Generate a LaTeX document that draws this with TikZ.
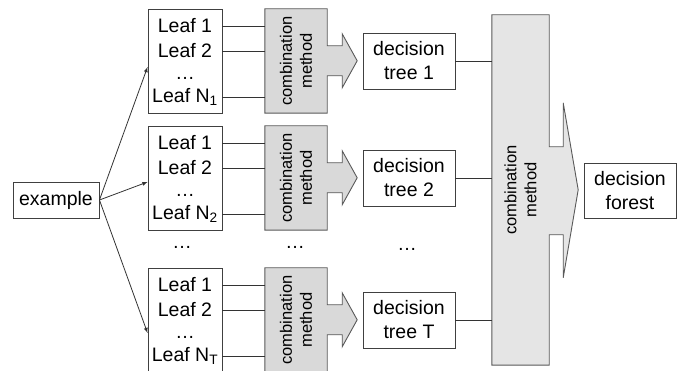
\documentclass[tikz,border=0pt]{standalone}
\usepackage{fontspec}
\setmainfont{Liberation Sans}
\begin{document}
\begin{tikzpicture}
    [
    x=1pt, y=-1pt,
    every node/.style={font=\fontsize{19.5}{24}\selectfont},
    box/.style={rectangle,draw=black!75,line width=0.9pt,inner sep=0pt,align=center},
    leafbox/.style={box,minimum width=74pt,minimum height=104pt},
    treebox/.style={box,minimum width=92pt,minimum height=56pt},
    leaf/.style={inner sep=0pt},
    combbox/.style={rectangle,inner sep=0pt,minimum width=62pt,minimum height=104pt},
    combtext/.style={rotate=90,align=center,inner sep=0pt,font=\fontsize{16.5}{20}\selectfont},
    combarrow/.style={fill=black!15,draw=black!65,line width=0.9pt,line join=miter},
    bigarrow/.style={fill=black!10,draw=black!65,line width=0.9pt,line join=miter},
    link/.style={draw=black!80,line width=0.8pt}
    ]
    \clip (0,0) rectangle (686,371);
    \node (example) at (56,200) [box,minimum width=86pt,minimum height=36pt] {example};
    % first tree
    \node (box1) at (185,61) [leafbox] {};
    \node (l1a) at (185,26) [leaf] {Leaf 1};
    \node (l1b) at (185,51) [leaf] {Leaf 2};
    \node (l1d) at (185,78) [leaf] {\dots};
    \node (l1n) at (185,97) [leaf] {Leaf N\textsubscript{1}};
    \node (comb1) at (296,61) [combbox] {};
    \path [combarrow] (comb1.north west) -- (comb1.north east) -- ++(0,37) -- ++(15,0) -- ++(0,-12)
        -- ++(15,27) -- ++(-15,27) -- ++(0,-12) -- ++(-15,0) -- (comb1.south east) -- (comb1.south west) -- cycle;
    \node at (comb1) [combtext] {combination\\method};
    \node (tree1) at (409,61) [treebox] {decision\\tree 1};
    % second tree
    \node (box2) at (185,178) [leafbox] {};
    \node (l2a) at (185,143) [leaf] {Leaf 1};
    \node (l2b) at (185,168) [leaf] {Leaf 2};
    \node (l2d) at (185,195) [leaf] {\dots};
    \node (l2n) at (185,214) [leaf] {Leaf N\textsubscript{2}};
    \node (comb2) at (296,178) [combbox] {};
    \path [combarrow] (comb2.north west) -- (comb2.north east) -- ++(0,37) -- ++(15,0) -- ++(0,-12)
        -- ++(15,27) -- ++(-15,27) -- ++(0,-12) -- ++(-15,0) -- (comb2.south east) -- (comb2.south west) -- cycle;
    \node at (comb2) [combtext] {combination\\method};
    \node (tree2) at (409,178) [treebox] {decision\\tree 2};
    % skipped trees
    \node (dotsl) at (182,247) [leaf] {\dots};
    \node (dotsc) at (295,247) [leaf] {\dots};
    \node (dotst) at (407,249) [leaf] {\dots};
    % last tree
    \node (box3) at (185,320) [leafbox] {};
    \node (l3a) at (185,285) [leaf] {Leaf 1};
    \node (l3b) at (185,310) [leaf] {Leaf 2};
    \node (l3d) at (185,337) [leaf] {\dots};
    \node (l3n) at (185,356) [leaf] {Leaf N\textsubscript{T}};
    \node (comb3) at (296,320) [combbox] {};
    \path [combarrow] (comb3.north west) -- (comb3.north east) -- ++(0,37) -- ++(15,0) -- ++(0,-12)
        -- ++(15,27) -- ++(-15,27) -- ++(0,-12) -- ++(-15,0) -- (comb3.south east) -- (comb3.south west) -- cycle;
    \node at (comb3) [combtext] {combination\\method};
    \node (tree3) at (409,320) [treebox] {decision\\tree T};
    % forest
    \node (bigcomb) at (520.5,190) [rectangle,inner sep=0pt,minimum width=57pt,minimum height=350pt] {};
    \path [bigarrow] (bigcomb.north west) -- (bigcomb.north east) -- ++(0,132) -- ++(14,0) -- ++(0,-44)
        -- ++(15,87) -- ++(-15,88) -- ++(0,-43) -- ++(-14,0) -- (bigcomb.south east) -- (bigcomb.south west) -- cycle;
    \node at (bigcomb) [combtext] {combination\\method};
    \node (forest) at (630,190.5) [treebox,minimum height=55pt] {decision\\forest};
    \draw [-latex,link] (example.east) to ([yshift=-6pt]box1.west);
    \draw [-latex,link] (example.east) to ([yshift=-4pt]box2.west);
    \draw [-latex,link] (example.east) to ([yshift=-13pt]box3.west);
    \draw [link] (l1a -| box1.east) to (l1a -| comb1.west);
    \draw [link] (l1b -| box1.east) to (l1b -| comb1.west);
    \draw [link] (l1n -| box1.east) to (l1n -| comb1.west);
    \draw [link] (l2a -| box2.east) to (l2a -| comb2.west);
    \draw [link] (l2b -| box2.east) to (l2b -| comb2.west);
    \draw [link] (l2n -| box2.east) to (l2n -| comb2.west);
    \draw [link] (l3a -| box3.east) to (l3a -| comb3.west);
    \draw [link] (l3b -| box3.east) to (l3b -| comb3.west);
    \draw [link] (l3n -| box3.east) to (l3n -| comb3.west);
    \draw [link] (tree1.east) to (tree1.east -| bigcomb.west);
    \draw [link] (tree2.east) to (tree2.east -| bigcomb.west);
    \draw [link] (tree3.east) to (tree3.east -| bigcomb.west);
  \end{tikzpicture}
\end{document}
